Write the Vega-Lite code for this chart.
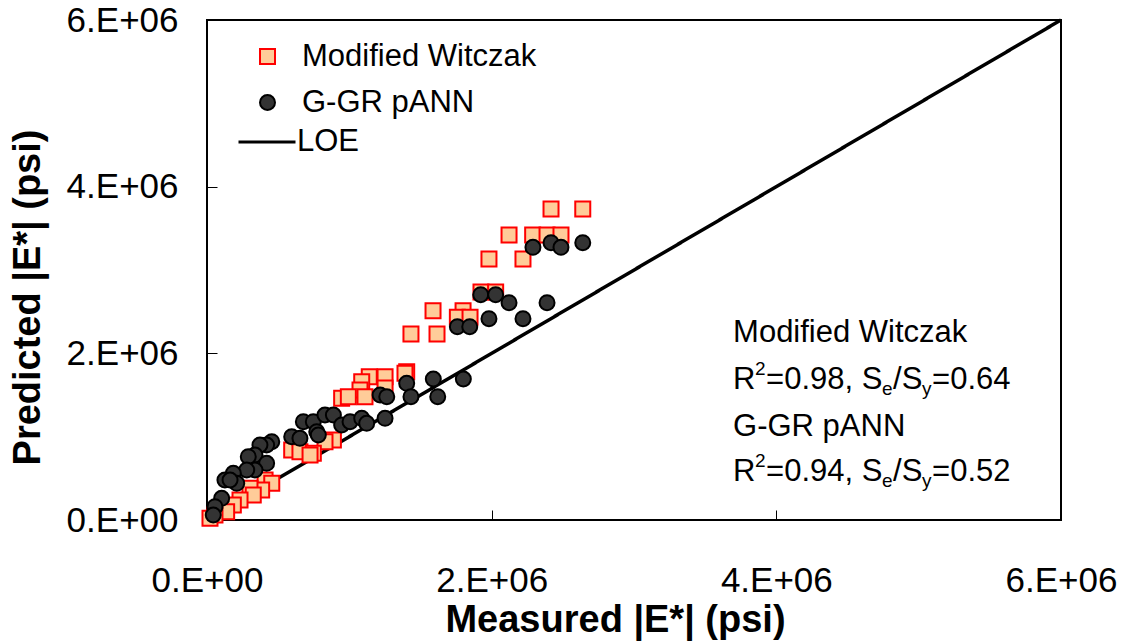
{
  "$schema": "https://vega.github.io/schema/vega-lite/v6.json",
  "width": 854,
  "height": 500,
  "autosize": {"type": "none"},
  "padding": {"left": 207, "top": 20, "right": 69, "bottom": 124},
  "background": "white",
  "config": {
    "view": {"stroke": "#000", "strokeWidth": 2},
    "font": "Liberation Sans",
    "axis": {
      "domain": false,
      "grid": false,
      "tickSize": -10,
      "tickColor": "#000",
      "tickWidth": 1,
      "labelFontSize": 35,
      "labelColor": "#000",
      "titleFontSize": 38,
      "titleFontWeight": "bold",
      "titleColor": "#000",
      "labelExpr": "datum.value == 0 ? '0.E+00' : (datum.value / 1000000) + '.E+06'"
    }
  },
  "datasets": {
    "pts": [
      {"model": "Modified Witczak", "measured": 2417000, "predicted": 3732000},
      {"model": "Modified Witczak", "measured": 2640000, "predicted": 3732000},
      {"model": "Modified Witczak", "measured": 2122000, "predicted": 3420000},
      {"model": "Modified Witczak", "measured": 2288000, "predicted": 3420000},
      {"model": "Modified Witczak", "measured": 2389000, "predicted": 3420000},
      {"model": "Modified Witczak", "measured": 2487000, "predicted": 3420000},
      {"model": "Modified Witczak", "measured": 1981000, "predicted": 3132000},
      {"model": "Modified Witczak", "measured": 2220000, "predicted": 3132000},
      {"model": "Modified Witczak", "measured": 1925000, "predicted": 2736000},
      {"model": "Modified Witczak", "measured": 2028000, "predicted": 2736000},
      {"model": "Modified Witczak", "measured": 1588000, "predicted": 2512000},
      {"model": "Modified Witczak", "measured": 1799000, "predicted": 2512000},
      {"model": "Modified Witczak", "measured": 1759000, "predicted": 2432000},
      {"model": "Modified Witczak", "measured": 1848000, "predicted": 2432000},
      {"model": "Modified Witczak", "measured": 1433000, "predicted": 2232000},
      {"model": "Modified Witczak", "measured": 1616000, "predicted": 2232000},
      {"model": "Modified Witczak", "measured": 1403000, "predicted": 1780000},
      {"model": "Modified Witczak", "measured": 1391000, "predicted": 1760000},
      {"model": "Modified Witczak", "measured": 1251000, "predicted": 1720000},
      {"model": "Modified Witczak", "measured": 1140000, "predicted": 1720000},
      {"model": "Modified Witczak", "measured": 1087000, "predicted": 1660000},
      {"model": "Modified Witczak", "measured": 1251000, "predicted": 1584000},
      {"model": "Modified Witczak", "measured": 1075000, "predicted": 1560000},
      {"model": "Modified Witczak", "measured": 946000, "predicted": 1460000},
      {"model": "Modified Witczak", "measured": 993000, "predicted": 1480000},
      {"model": "Modified Witczak", "measured": 1110000, "predicted": 1480000},
      {"model": "Modified Witczak", "measured": 888000, "predicted": 960000},
      {"model": "Modified Witczak", "measured": 829000, "predicted": 940000},
      {"model": "Modified Witczak", "measured": 595000, "predicted": 840000},
      {"model": "Modified Witczak", "measured": 653000, "predicted": 820000},
      {"model": "Modified Witczak", "measured": 747000, "predicted": 800000},
      {"model": "Modified Witczak", "measured": 724000, "predicted": 780000},
      {"model": "Modified Witczak", "measured": 408000, "predicted": 480000},
      {"model": "Modified Witczak", "measured": 455000, "predicted": 440000},
      {"model": "Modified Witczak", "measured": 384000, "predicted": 360000},
      {"model": "Modified Witczak", "measured": 302000, "predicted": 380000},
      {"model": "Modified Witczak", "measured": 325000, "predicted": 300000},
      {"model": "Modified Witczak", "measured": 232000, "predicted": 240000},
      {"model": "Modified Witczak", "measured": 185000, "predicted": 180000},
      {"model": "Modified Witczak", "measured": 138000, "predicted": 100000},
      {"model": "Modified Witczak", "measured": 56000, "predicted": 60000},
      {"model": "Modified Witczak", "measured": 21000, "predicted": 20000},
      {"model": "G-GR pANN", "measured": 2290000, "predicted": 3272000},
      {"model": "G-GR pANN", "measured": 2417000, "predicted": 3328000},
      {"model": "G-GR pANN", "measured": 2487000, "predicted": 3272000},
      {"model": "G-GR pANN", "measured": 2640000, "predicted": 3328000},
      {"model": "G-GR pANN", "measured": 1923000, "predicted": 2704000},
      {"model": "G-GR pANN", "measured": 2028000, "predicted": 2704000},
      {"model": "G-GR pANN", "measured": 2122000, "predicted": 2608000},
      {"model": "G-GR pANN", "measured": 2389000, "predicted": 2608000},
      {"model": "G-GR pANN", "measured": 1981000, "predicted": 2416000},
      {"model": "G-GR pANN", "measured": 2220000, "predicted": 2416000},
      {"model": "G-GR pANN", "measured": 1759000, "predicted": 2320000},
      {"model": "G-GR pANN", "measured": 1846000, "predicted": 2320000},
      {"model": "G-GR pANN", "measured": 1403000, "predicted": 1640000},
      {"model": "G-GR pANN", "measured": 1590000, "predicted": 1692000},
      {"model": "G-GR pANN", "measured": 1801000, "predicted": 1692000},
      {"model": "G-GR pANN", "measured": 1433000, "predicted": 1480000},
      {"model": "G-GR pANN", "measured": 1621000, "predicted": 1480000},
      {"model": "G-GR pANN", "measured": 1216000, "predicted": 1500000},
      {"model": "G-GR pANN", "measured": 1263000, "predicted": 1480000},
      {"model": "G-GR pANN", "measured": 677000, "predicted": 1180000},
      {"model": "G-GR pANN", "measured": 747000, "predicted": 1180000},
      {"model": "G-GR pANN", "measured": 829000, "predicted": 1260000},
      {"model": "G-GR pANN", "measured": 888000, "predicted": 1260000},
      {"model": "G-GR pANN", "measured": 946000, "predicted": 1140000},
      {"model": "G-GR pANN", "measured": 1005000, "predicted": 1180000},
      {"model": "G-GR pANN", "measured": 1087000, "predicted": 1220000},
      {"model": "G-GR pANN", "measured": 1122000, "predicted": 1160000},
      {"model": "G-GR pANN", "measured": 1251000, "predicted": 1220000},
      {"model": "G-GR pANN", "measured": 595000, "predicted": 1000000},
      {"model": "G-GR pANN", "measured": 653000, "predicted": 980000},
      {"model": "G-GR pANN", "measured": 771000, "predicted": 1060000},
      {"model": "G-GR pANN", "measured": 782000, "predicted": 1020000},
      {"model": "G-GR pANN", "measured": 455000, "predicted": 940000},
      {"model": "G-GR pANN", "measured": 419000, "predicted": 900000},
      {"model": "G-GR pANN", "measured": 372000, "predicted": 900000},
      {"model": "G-GR pANN", "measured": 337000, "predicted": 780000},
      {"model": "G-GR pANN", "measured": 290000, "predicted": 760000},
      {"model": "G-GR pANN", "measured": 419000, "predicted": 680000},
      {"model": "G-GR pANN", "measured": 337000, "predicted": 600000},
      {"model": "G-GR pANN", "measured": 279000, "predicted": 600000},
      {"model": "G-GR pANN", "measured": 185000, "predicted": 560000},
      {"model": "G-GR pANN", "measured": 126000, "predicted": 480000},
      {"model": "G-GR pANN", "measured": 209000, "predicted": 440000},
      {"model": "G-GR pANN", "measured": 162000, "predicted": 480000},
      {"model": "G-GR pANN", "measured": 103000, "predicted": 260000},
      {"model": "G-GR pANN", "measured": 56000, "predicted": 160000},
      {"model": "G-GR pANN", "measured": 44000, "predicted": 60000}
    ],
    "loe": [
      {"series": "LOE", "measured": 0, "predicted": 0},
      {"series": "LOE", "measured": 6000000, "predicted": 6000000}
    ],
    "stats": [
      {"model": "Modified Witczak", "r2": 0.98, "se_sy": 0.64},
      {"model": "G-GR pANN", "r2": 0.94, "se_sy": 0.52}
    ]
  },
  "encoding": {
    "x": {
      "type": "quantitative",
      "scale": {"domain": [0, 6000000], "nice": false, "zero": true},
      "axis": {
        "title": "Measured |E*| (psi)",
        "values": [0, 2000000, 4000000, 6000000],
        "labelBaseline": "middle",
        "labelPadding": 70,
        "labelFlush": false,
        "titleX": 408,
        "titleY": 100,
        "titleBaseline": "middle"
      }
    },
    "y": {
      "type": "quantitative",
      "scale": {"domain": [0, 6000000], "nice": false, "zero": true},
      "axis": {
        "title": "Predicted |E*| (psi)",
        "values": [0, 2000000, 4000000, 6000000],
        "labelPadding": 39,
        "labelFlush": false,
        "titleX": -179,
        "titleY": 277,
        "titleBaseline": "middle",
        "titleAngle": -90
      }
    }
  },
  "layer": [
    {
      "data": {"name": "loe"},
      "mark": {"type": "line", "color": "#000", "strokeWidth": 3.5},
      "encoding": {
        "x": {"field": "measured", "type": "quantitative"},
        "y": {"field": "predicted", "type": "quantitative"},
        "strokeDash": {
          "field": "series",
          "type": "nominal",
          "scale": {"domain": ["LOE"], "range": [[1, 0]]},
          "legend": {
            "title": null,
            "orient": "none",
            "legendX": 30,
            "legendY": 92,
            "padding": 0,
            "symbolType": "stroke",
            "symbolSize": 3249,
            "symbolStrokeWidth": 3,
            "symbolStrokeColor": "#000",
            "labelFontSize": 31,
            "labelColor": "#000",
            "labelLimit": 0,
            "labelOffset": 0
          }
        }
      }
    },
    {
      "data": {"name": "pts"},
      "mark": {"type": "point", "size": 225, "strokeWidth": 2, "opacity": 1, "filled": false},
      "encoding": {
        "x": {"field": "measured", "type": "quantitative"},
        "y": {"field": "predicted", "type": "quantitative"},
        "shape": {
          "field": "model", "type": "nominal",
          "scale": {"domain": ["Modified Witczak", "G-GR pANN"], "range": ["square", "circle"]},
          "legend": {"title": null, "orient": "none", "legendX": 45, "legendY": 21, "padding": 0, "symbolSize": 225, "symbolStrokeWidth": 2, "labelFontSize": 31, "labelColor": "#000", "labelLimit": 0, "labelOffset": 19, "rowPadding": 14}
        },
        "fill": {
          "field": "model", "type": "nominal",
          "scale": {"domain": ["Modified Witczak", "G-GR pANN"], "range": ["#FFCC99", "#333333"]},
          "legend": {"title": null, "orient": "none", "legendX": 45, "legendY": 21, "padding": 0, "symbolSize": 225, "symbolStrokeWidth": 2, "labelFontSize": 31, "labelColor": "#000", "labelLimit": 0, "labelOffset": 19, "rowPadding": 14}
        },
        "stroke": {
          "field": "model", "type": "nominal",
          "scale": {"domain": ["Modified Witczak", "G-GR pANN"], "range": ["#FF0000", "#000000"]},
          "legend": {"title": null, "orient": "none", "legendX": 45, "legendY": 21, "padding": 0, "symbolSize": 225, "symbolStrokeWidth": 2, "labelFontSize": 31, "labelColor": "#000", "labelLimit": 0, "labelOffset": 19, "rowPadding": 14}
        }
      }
    },
    {
      "data": {"name": "stats"},
      "transform": [{"filter": "datum.model == 'Modified Witczak'"}],
      "encoding": {
        "x": {"datum": 3696000, "type": "quantitative"},
        "y": {"datum": 1680000, "type": "quantitative"}
      },
      "layer": [
        {"mark": {"type": "text", "align": "left", "baseline": "middle", "fontSize": 31, "color": "#000", "dy": -47}, "encoding": {"text": {"field": "model"}}},
        {"mark": {"type": "text", "align": "left", "baseline": "middle", "fontSize": 31, "color": "#000", "text": "R"}},
        {"mark": {"type": "text", "align": "left", "baseline": "middle", "fontSize": 19, "color": "#000", "text": "2", "dx": 22, "dy": -11}},
        {"mark": {"type": "text", "align": "left", "baseline": "middle", "fontSize": 31, "color": "#000", "text": "=0.98, S", "dx": 33}},
        {"mark": {"type": "text", "align": "left", "baseline": "middle", "fontSize": 19, "color": "#000", "text": "e", "dx": 149, "dy": 9}},
        {"mark": {"type": "text", "align": "left", "baseline": "middle", "fontSize": 31, "color": "#000", "text": "/S", "dx": 160}},
        {"mark": {"type": "text", "align": "left", "baseline": "middle", "fontSize": 19, "color": "#000", "text": "y", "dx": 189, "dy": 9}},
        {"mark": {"type": "text", "align": "left", "baseline": "middle", "fontSize": 31, "color": "#000", "text": "=0.64", "dx": 199}}
      ]
    },
    {
      "data": {"name": "stats"},
      "transform": [{"filter": "datum.model == 'G-GR pANN'"}],
      "encoding": {
        "x": {"datum": 3696000, "type": "quantitative"},
        "y": {"datum": 576000, "type": "quantitative"}
      },
      "layer": [
        {"mark": {"type": "text", "align": "left", "baseline": "middle", "fontSize": 31, "color": "#000", "dy": -45}, "encoding": {"text": {"field": "model"}}},
        {"mark": {"type": "text", "align": "left", "baseline": "middle", "fontSize": 31, "color": "#000", "text": "R"}},
        {"mark": {"type": "text", "align": "left", "baseline": "middle", "fontSize": 19, "color": "#000", "text": "2", "dx": 22, "dy": -11}},
        {"mark": {"type": "text", "align": "left", "baseline": "middle", "fontSize": 31, "color": "#000", "text": "=0.94, S", "dx": 33}},
        {"mark": {"type": "text", "align": "left", "baseline": "middle", "fontSize": 19, "color": "#000", "text": "e", "dx": 149, "dy": 9}},
        {"mark": {"type": "text", "align": "left", "baseline": "middle", "fontSize": 31, "color": "#000", "text": "/S", "dx": 160}},
        {"mark": {"type": "text", "align": "left", "baseline": "middle", "fontSize": 19, "color": "#000", "text": "y", "dx": 189, "dy": 9}},
        {"mark": {"type": "text", "align": "left", "baseline": "middle", "fontSize": 31, "color": "#000", "text": "=0.52", "dx": 199}}
      ]
    }
  ]
}
